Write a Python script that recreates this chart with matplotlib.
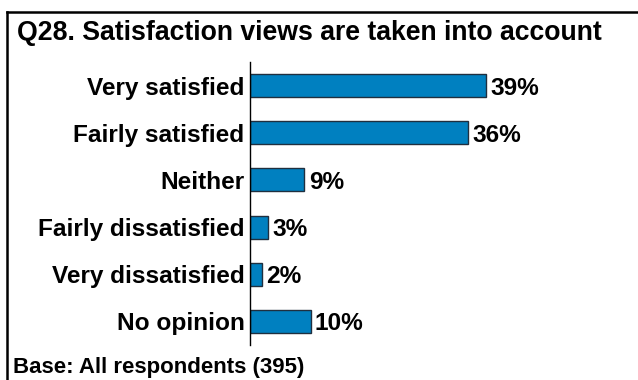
import numpy as np
import matplotlib.pyplot as plt

plt.rcParams['font.family'] = ['Liberation Sans', 'DejaVu Sans']
plt.rcParams['font.weight'] = 'bold'

categories = ['Very satisfied', 'Fairly satisfied', 'Neither',
              'Fairly dissatisfied', 'Very dissatisfied', 'No opinion']
values = [39, 36, 9, 3, 2, 10]
title = 'Q28. Satisfaction views are taken into account'
footer = 'Base: All respondents (395)'

W, H = 638, 380
fig = plt.figure(figsize=(W / 100, H / 100), dpi=100)

# axes box in pixel coords: x from 250, y from 62 to 345
x0, x1 = 250, 600
y_top, y_bot = 62, 345
ax = fig.add_axes([x0 / W, 1 - y_bot / H, (x1 - x0) / W, (y_bot - y_top) / H])

y = np.arange(len(categories))
ax.barh(y, values, height=0.49, color='#0080C0', edgecolor='#1F2F3F', linewidth=1)
ax.set_ylim(len(categories) - 0.5, -0.5)
ax.set_xlim(0, (x1 - x0) / 6.05)

for yi, v in zip(y, values):
    ax.text(v + 0.7, yi, f'{v}%', va='center_baseline', ha='left',
            fontsize=17.6, fontweight='bold')

ax.set_yticks(y)
ax.set_yticklabels(categories, fontsize=17.6, fontweight='bold')
ax.tick_params(axis='y', length=0, pad=4)
ax.set_xticks([])
for s in ['top', 'right', 'bottom']:
    ax.spines[s].set_visible(False)
ax.spines['left'].set_linewidth(1)

# frame lines (top and left)
fig.add_artist(plt.Line2D([7 / W, 1], [1 - 12 / H, 1 - 12 / H], color='black', lw=1.8))
fig.add_artist(plt.Line2D([7 / W, 7 / W], [0, 1 - 12 / H], color='black', lw=1.8))

fig.text(17 / W, 1 - 33 / H, title, fontsize=19.2, fontweight='bold', va='center', ha='left')
fig.text(13 / W, 1 - 367 / H, footer, fontsize=16, fontweight='bold', va='center', ha='left')

fig.savefig('out.png', dpi=100)
